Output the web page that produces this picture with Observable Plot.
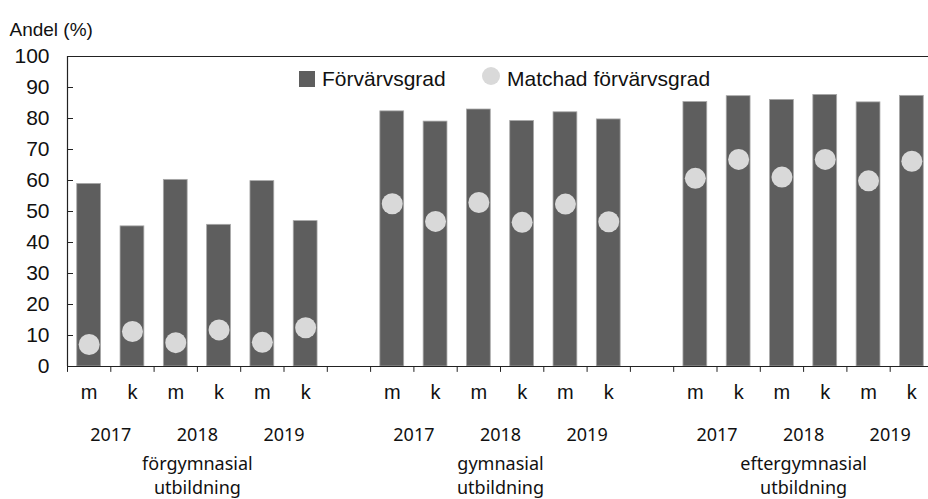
<!DOCTYPE html>
<html>
<head>
<meta charset="utf-8">
<script src="https://cdn.jsdelivr.net/npm/d3@7"></script>
<script src="https://cdn.jsdelivr.net/npm/@observablehq/plot@0.6"></script>
<style>
  html, body { margin: 0; padding: 0; background: #fff; overflow: hidden; }
  #wrap { position: relative; width: 928px; height: 499px; }
  .leg { position: absolute; font-family: "Liberation Sans", Arial, sans-serif; font-size: 21px; color: #111; line-height: 1; white-space: nowrap; }
  .sw { position: absolute; }
</style>
</head>
<body>
<div id="wrap"></div>
<script>
// ---- data ----
const groups = ["förgymnasial\nutbildning", "gymnasial\nutbildning", "eftergymnasial\nutbildning"];
const years = ["2017", "2018", "2019"];
const sexes = ["m", "k"];
const forvarvsgrad = [58.9, 45.2, 60.2, 45.7, 59.8, 46.9,
                      82.3, 79.0, 82.9, 79.2, 82.0, 79.7,
                      85.3, 87.2, 86.0, 87.6, 85.2, 87.3];
const matchad = [7.1, 11.3, 7.7, 11.8, 7.8, 12.5,
                 52.5, 46.8, 52.9, 46.5, 52.4, 46.7,
                 60.7, 66.8, 61.1, 66.8, 59.9, 66.2];
const yTicks = [0, 10, 20, 30, 40, 50, 60, 70, 80, 90, 100];
const yLabel = "Andel (%)";
const legendLabels = ["Förvärvsgrad", "Matchad förvärvsgrad"];

// ---- build table ----
const perGroup = years.length * sexes.length;      // 6
const groupStep = perGroup + 1;                     // one empty slot between groups
const nSlots = groups.length * groupStep - 1;       // 20
const rows = [];
groups.forEach((g, gi) => years.forEach((y, yi) => sexes.forEach((s, si) => {
  const i = gi * perGroup + yi * sexes.length + si;
  rows.push({group: g, year: y, sex: s, slot: gi * groupStep + yi * sexes.length + si,
             forv: forvarvsgrad[i], match: matchad[i]});
})));
const yearRows = [];
groups.forEach((g, gi) => years.forEach((y, yi) => yearRows.push({year: y, pos: gi * groupStep + yi * sexes.length + 1})));
const groupRows = groups.map((g, gi) => ({group: g, pos: gi * groupStep + perGroup / 2}));
const boundaries = d3.range(0, nSlots);

const barColor = "#5e5e5e";
const dotColor = "#d9d9d9";
const axisColor = "#222";
const pad = 0.225;

const chart = Plot.plot({
  width: 928,
  height: 499,
  marginLeft: 67,
  marginRight: 0,
  marginTop: 56,
  marginBottom: 133,
  style: {fontFamily: "'Liberation Sans', Arial, sans-serif", fontSize: "20px", color: "#111", background: "#fff"},
  x: {domain: [0, nSlots], range: [67, 933], axis: null},
  y: {domain: [0, 100], axis: null},
  marks: [
    Plot.rectY(rows, {x1: d => d.slot + pad, x2: d => d.slot + 1 - pad, y1: 0, y2: "forv",
                      fill: barColor, stroke: "#a8a8a8", strokeWidth: 0.8}),
    Plot.dot(rows, {x: d => d.slot + 0.5, y: "match", r: 10.5, fill: dotColor, stroke: "none"}),
    // frame lines
    Plot.ruleY([100], {x1: 0, x2: nSlots, stroke: axisColor, strokeWidth: 1.2}),
    Plot.ruleY([0], {x1: 0, x2: nSlots, stroke: axisColor, strokeWidth: 1.2}),
    Plot.ruleX([0], {y1: 0, y2: 100, stroke: axisColor, strokeWidth: 1.2}),
    // inward y ticks
    Plot.ruleY(yTicks, {y: d => d, x1: 0, x2: 6 / 43.3, stroke: axisColor, strokeWidth: 1}),
    // downward x ticks at slot boundaries
    Plot.ruleX(boundaries, {x: d => d, y1: 0, y2: -1.9, stroke: axisColor, strokeWidth: 1}),
    // y tick labels
    Plot.axisY({ticks: yTicks, tickSize: 0, tickPadding: 18, label: null, fontSize: 21,
                fontFamily: "'Liberation Sans', Arial, sans-serif", fill: "#111"}),
    // y axis title
    Plot.text([yLabel], {frameAnchor: "top-left", dx: -58, dy: -34, textAnchor: "start",
                         fontSize: 19, fill: "#111"}),
    // m / k labels
    Plot.text(rows, {x: d => d.slot + 0.5, y: 0, dy: 26, text: "sex", fontSize: 20, fill: "#111"}),
    // year labels
    Plot.text(yearRows, {x: "pos", y: 0, dy: 69, text: "year", fontSize: 18,
                         fontFamily: "'Noto Sans', 'Open Sans', sans-serif", fill: "#111"}),
    // group labels
    Plot.text(groupRows, {x: "pos", y: 0, dy: 108, text: "group", fontSize: 18, lineHeight: 1.3,
                          fontFamily: "'Noto Sans', 'Open Sans', sans-serif", fill: "#111"})
  ]
});

const wrap = document.getElementById("wrap");
wrap.appendChild(chart);

// legend (HTML overlay)
function add(el, css) { Object.assign(el.style, css); wrap.appendChild(el); return el; }
const sq = document.createElement("div"); sq.className = "sw";
add(sq, {left: "299px", top: "71px", width: "16px", height: "16px", background: barColor});
const t1 = document.createElement("div"); t1.className = "leg"; t1.textContent = legendLabels[0];
add(t1, {left: "322px", top: "68px"});
const ci = document.createElement("div"); ci.className = "sw";
add(ci, {left: "482px", top: "67px", width: "18px", height: "18px", borderRadius: "50%", background: dotColor});
const t2 = document.createElement("div"); t2.className = "leg"; t2.textContent = legendLabels[1];
add(t2, {left: "507px", top: "68px"});
</script>
</body>
</html>
